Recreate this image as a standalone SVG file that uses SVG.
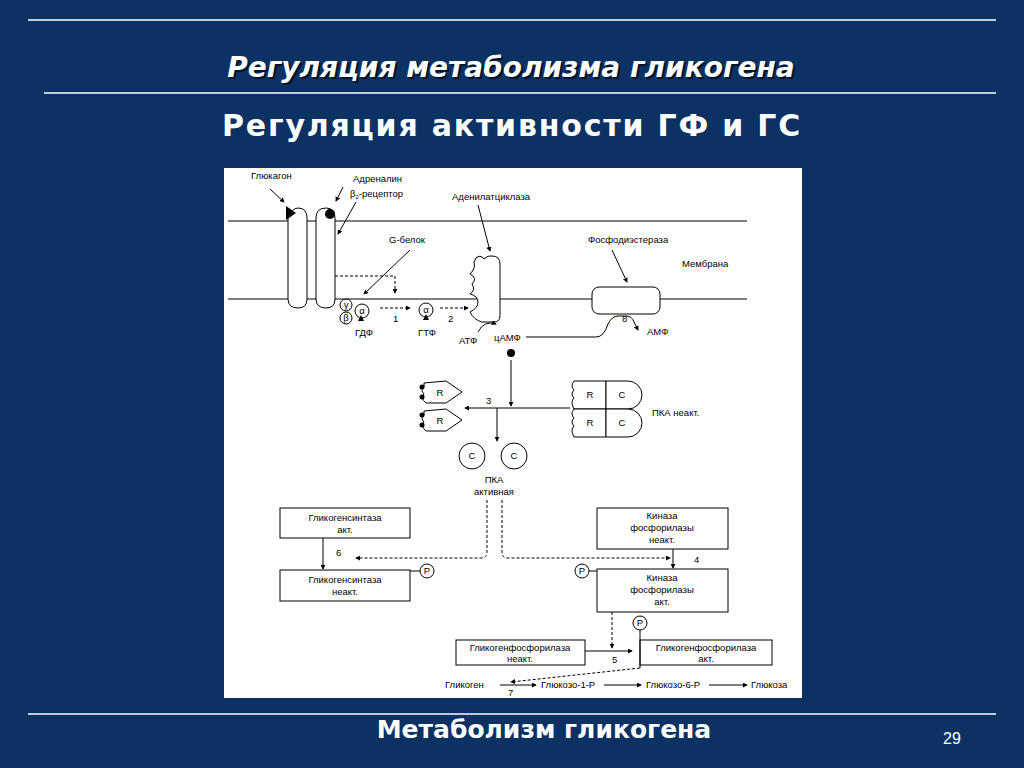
<svg xmlns="http://www.w3.org/2000/svg" width="1024" height="768" viewBox="0 0 1024 768">
<defs>
<marker id="ah" viewBox="0 0 6 6" refX="5" refY="3" markerWidth="5" markerHeight="5" orient="auto"><path d="M0,0 L6,3 L0,6 z" fill="#000"/></marker>
<style>
.w{fill:#fff;font-family:"DejaVu Sans",Verdana,sans-serif;font-weight:bold}
.t{font-family:"Liberation Sans",Arial,sans-serif;font-size:9.5px;fill:#000}
.c{text-anchor:middle}
.s{fill:none;stroke:#000;stroke-width:1}
.d{fill:none;stroke:#000;stroke-width:1;stroke-dasharray:3,2}
.b{fill:#fff;stroke:#000;stroke-width:1}
</style>
</defs>
<rect width="1024" height="768" fill="#0b3263"/>
<line x1="28" y1="20" x2="996" y2="20" stroke="#fff" stroke-width="1.5"/>
<text x="513" y="79" font-size="28" font-style="italic" text-anchor="middle" font-family="DejaVu Sans,Verdana,sans-serif" font-weight="bold" fill="#000" opacity="0.6">Регуляция метаболизма гликогена</text>
<text class="w" x="511" y="77" font-size="28" font-style="italic" text-anchor="middle">Регуляция метаболизма гликогена</text>
<line x1="44" y1="93" x2="996" y2="93" stroke="#fff" stroke-width="1.5"/>
<text class="w" x="512" y="136" font-size="30" letter-spacing="1.8" text-anchor="middle">Регуляция активности ГФ и ГС</text>
<line x1="28" y1="714" x2="996" y2="714" stroke="#fff" stroke-width="1.5"/>
<text class="w" x="544" y="738" font-size="25" text-anchor="middle">Метаболизм гликогена</text>
<text x="952" y="744" font-size="16" fill="#fff" font-family="Liberation Sans,Arial,sans-serif" text-anchor="middle">29</text>
<rect x="224" y="168" width="578" height="530" fill="#fff"/>

<g id="membrane">
<line class="s" x1="228" y1="221" x2="747" y2="221"/>
<line class="s" x1="228" y1="299" x2="747" y2="299"/>
<text class="t" x="682" y="267">Мембрана</text>
</g>
<g id="receptors">
<path class="b" d="M288,218 Q292,208 298,208 Q307,208 307,218 L307,299 Q307,308 298,308 Q288,308 288,299 Z"/>
<path class="b" d="M316,218 Q316,208 326,208 Q335,208 335,218 L335,299 Q335,308 326,308 Q316,308 316,299 Z"/>
<path d="M286,206 L296,213 L286,220 Z" fill="#000"/>
<circle cx="330" cy="214" r="5" fill="#000"/>
<text class="t" x="251" y="179">Глюкагон</text>
<text class="t" x="353" y="182">Адреналин</text>
<text class="t" x="350" y="197">β<tspan font-size="6" dy="2">2</tspan><tspan dy="-2">-рецептор</tspan></text>
<line class="s" x1="270" y1="189" x2="284" y2="202" marker-end="url(#ah)"/>
<line class="s" x1="343" y1="187" x2="336" y2="201" marker-end="url(#ah)"/>
<line class="s" x1="356" y1="202" x2="338" y2="234" marker-end="url(#ah)"/>
</g>
<g id="gprotein">
<text class="t" x="389" y="243">G-белок</text>
<line class="s" x1="410" y1="250" x2="364" y2="294" marker-end="url(#ah)"/>
<circle class="b" cx="346" cy="305" r="6"/><text class="t c" x="346" y="308" font-size="8">γ</text>
<circle class="b" cx="346" cy="318" r="6"/><text class="t c" x="346" y="321" font-size="8">β</text>
<circle class="b" cx="362" cy="311" r="7"/><text class="t c" x="362" y="314" font-size="8">α</text>
<path d="M361,315 L364,321 L358,321 Z" fill="#000"/>
<text class="t" x="355" y="336">ГДФ</text>
<circle class="b" cx="426" cy="310" r="7"/><text class="t c" x="426" y="313" font-size="8">α</text>
<path d="M426,314 L429,320 L423,320 Z" fill="#000"/>
<text class="t" x="418" y="336">ГТФ</text>
</g>
<g id="adenylatcyclase">
<text class="t" x="452" y="200">Аденилатциклаза</text>
<line class="s" x1="478" y1="205" x2="490" y2="251" marker-end="url(#ah)"/>
<path class="b" d="M476,258 Q480,254 484,259 Q488,255 492,256 Q500,256 500,264 L500,316 Q500,322 494,322 L482,322 Q474,320 470,312 Q478,308 478,302 Q478,296 470,294 Q476,290 472,284 Q478,278 470,274 Q476,268 474,262 Z"/>
<text class="t" x="459" y="344">АТФ</text>
<text class="t" x="494" y="341">цАМФ</text>
<path class="s" d="M478,332 Q484,320 496,324" marker-end="url(#ah)"/>
</g>
<g id="phosphodiesterase">
<text class="t" x="588" y="243">Фосфодиэстераза</text>
<line class="s" x1="612" y1="250" x2="627" y2="282" marker-end="url(#ah)"/>
<rect class="b" x="592" y="287" width="68" height="27" rx="7"/>
<text class="t" x="622" y="322">8</text>
<text class="t" x="647" y="335">АМФ</text>
</g>
<g id="pka">
<circle cx="511" cy="353" r="4" fill="#000"/>
<path class="b" d="M424,383 L446,381 L462,392 L446,403 L426,403 Q420,398 424,394 Q420,390 424,387 Z"/>
<text class="t c" x="440" y="396">R</text>
<path class="b" d="M424,411 L446,409 L462,420 L446,431 L426,431 Q420,426 424,422 Q420,418 424,415 Z"/>
<text class="t c" x="440" y="424">R</text>
<circle cx="422" cy="387" r="2.5" fill="#000"/><circle cx="422" cy="397" r="2.5" fill="#000"/>
<circle cx="422" cy="415" r="2.5" fill="#000"/><circle cx="422" cy="425" r="2.5" fill="#000"/>
<path class="b" d="M574,381 L606,381 L606,409 L574,409 Q570,402 574,398 Q570,394 574,390 Q570,386 574,381 Z"/>
<path class="b" d="M606,381 L628,381 A14,14 0 0 1 628,409 L606,409 Z"/>
<path class="b" d="M574,409 L606,409 L606,437 L574,437 Q570,430 574,426 Q570,422 574,418 Q570,414 574,409 Z"/>
<path class="b" d="M606,409 L628,409 A14,14 0 0 1 628,437 L606,437 Z"/>
<text class="t c" x="590" y="398">R</text><text class="t c" x="622" y="398">C</text>
<text class="t c" x="590" y="426">R</text><text class="t c" x="622" y="426">C</text>
<text class="t" x="652" y="416">ПКА неакт.</text>
<text class="t" x="486" y="404">3</text>
<circle class="b" cx="472" cy="456" r="13"/><text class="t c" x="472" y="459">C</text>
<circle class="b" cx="514" cy="456" r="13"/><text class="t c" x="514" y="459">C</text>
<text class="t c" x="494" y="483">ПКА</text>
<text class="t c" x="494" y="495">активная</text>
</g>
<g id="gs-act"><rect class="b" x="280" y="508" width="130" height="30"/><text class="t c" x="345" y="521">Гликогенсинтаза</text><text class="t c" x="345" y="533">акт.</text></g>
<g id="gs-inact"><rect class="b" x="280" y="570" width="130" height="31"/><text class="t c" x="345" y="583">Гликогенсинтаза</text><text class="t c" x="345" y="595">неакт.</text>
<circle class="b" cx="427" cy="571" r="7"/><text class="t c" x="427" y="574" font-size="8">P</text><line class="s" x1="410" y1="571" x2="420" y2="571"/></g>
<g id="kin-inact"><rect class="b" x="597" y="508" width="131" height="41"/><text class="t c" x="662" y="519">Киназа</text><text class="t c" x="662" y="531">фосфорилазы</text><text class="t c" x="662" y="543">неакт.</text></g>
<g id="kin-act"><rect class="b" x="597" y="569" width="131" height="43"/><text class="t c" x="662" y="581">Киназа</text><text class="t c" x="662" y="593">фосфорилазы</text><text class="t c" x="662" y="605">акт.</text>
<circle class="b" cx="582" cy="571" r="7"/><text class="t c" x="582" y="574" font-size="8">P</text><line class="s" x1="589" y1="571" x2="597" y2="571"/></g>
<g id="gp-inact"><rect class="b" x="456" y="640" width="129" height="25"/><text class="t c" x="520" y="651">Гликогенфосфорилаза</text><text class="t c" x="520" y="662">неакт.</text></g>
<g id="gp-act"><rect class="b" x="640" y="640" width="132" height="25"/><text class="t c" x="706" y="651">Гликогенфосфорилаза</text><text class="t c" x="706" y="662">акт.</text>
<circle class="b" cx="640" cy="623" r="7"/><text class="t c" x="640" y="626" font-size="8">P</text></g>
<g id="pathway">
<text class="t" x="445" y="688">Гликоген</text>
<text class="t" x="541" y="688">Глюкозо-1-Р</text>
<text class="t" x="646" y="688">Глюкозо-6-Р</text>
<text class="t" x="751" y="688">Глюкоза</text>
<text class="t" x="508" y="696" font-size="8">7</text>
<text class="t" x="393" y="322">1</text><text class="t" x="448" y="322">2</text>
<text class="t" x="336" y="556">6</text><text class="t" x="694" y="563">4</text><text class="t" x="612" y="663">5</text>
</g>
<g id="connectors">
<path class="d" d="M335,276 L395,276 L395,293" marker-end="url(#ah)"/>
<line class="d" x1="380" y1="308" x2="410" y2="308" marker-end="url(#ah)"/>
<line class="d" x1="440" y1="308" x2="468" y2="308" marker-end="url(#ah)"/>
<path class="s" d="M526,337 L596,337 Q604,337 608,324 Q612,316 618,316 L626,316 Q632,316 634,322 L638,330" marker-end="url(#ah)"/>
<line class="s" x1="511" y1="360" x2="511" y2="406" marker-end="url(#ah)"/>
<line class="s" x1="570" y1="408" x2="465" y2="408" marker-end="url(#ah)"/>
<line class="s" x1="497" y1="408" x2="497" y2="441" marker-end="url(#ah)"/>
<path class="d" d="M487,500 L487,552 Q487,558 481,558 L356,558" marker-end="url(#ah)"/>
<path class="d" d="M502,500 L502,552 Q502,558 508,558 L670,558" marker-end="url(#ah)"/>
<line class="s" x1="323" y1="538" x2="323" y2="569" marker-end="url(#ah)"/>
<line class="s" x1="673" y1="549" x2="673" y2="568" marker-end="url(#ah)"/>
<line class="d" x1="612" y1="612" x2="612" y2="648" marker-end="url(#ah)"/>
<line class="s" x1="640" y1="630" x2="640" y2="668"/>
<line class="s" x1="585" y1="651" x2="632" y2="651" marker-end="url(#ah)"/>
<line class="d" x1="640" y1="668" x2="511" y2="682" marker-end="url(#ah)"/>
<line class="s" x1="500" y1="685" x2="536" y2="685" marker-end="url(#ah)"/>
<line class="s" x1="604" y1="685" x2="641" y2="685" marker-end="url(#ah)"/>
<line class="s" x1="709" y1="685" x2="747" y2="685" marker-end="url(#ah)"/>
</g>
</svg>
